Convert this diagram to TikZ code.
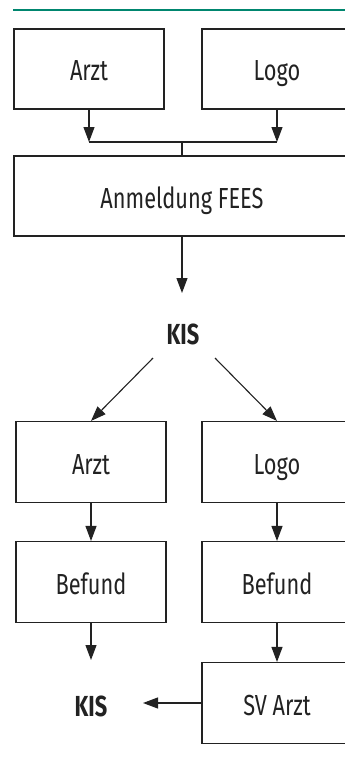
\documentclass[tikz,border=0pt]{standalone}
\usepackage{fontspec}
\setmainfont[FakeStretch=0.75]{Fira Sans}
\usetikzlibrary{arrows.meta,calc}
\definecolor{teal1}{HTML}{00866F}
\definecolor{ink}{HTML}{222222}
\begin{document}
\begin{tikzpicture}[x=1pt,y=-1pt,
  box/.style={draw=ink,line width=1.1pt,minimum width=150pt,minimum height=80pt,inner sep=0pt,text height=24pt,text depth=0pt,font=\fontsize{29}{32}\selectfont,text=ink},
  kis/.style={font=\fontsize{29}{32}\selectfont\bfseries,text=ink,inner sep=0pt},
  arr/.style={draw=ink,line width=1.1pt,-{Triangle[length=15pt,width=11pt]}},
  ln/.style={draw=ink,line width=1.1pt}]
\useasboundingbox (0,0) rectangle (345,760);
\clip (0,0) rectangle (345,760);
\draw[teal1,line width=2.5pt] (13,10) -- (350,10);
\node[box] (arzt1) at (89,69) {Arzt};
\node[box] (logo1) at (277,69) {Logo};
\node[box,minimum width=336pt] (anm) at (182,196) {Anmeldung FEES};
\node[kis] (kis1) at (183,334) {KIS};
\node[box,minimum height=81pt] (arzt2) at (91,462) {Arzt};
\node[box,minimum height=81pt] (logo2) at (277,462) {Logo};
\node[box,minimum height=81pt] (bef1) at (91,582) {Befund};
\node[box,minimum height=81pt] (bef2) at (277,582) {Befund};
\node[box,minimum height=81pt] (sv) at (277,703) {SV Arzt};
\node[kis] (kis2) at (91,706) {KIS};
\coordinate (j) at (182,142);
\draw[arr] (arzt1.south) -- (arzt1.south |- j);
\draw[arr] (logo1.south) -- (logo1.south |- j);
\draw[ln] (arzt1.south |- j) -- (logo1.south |- j);
\draw[ln] (j) -- (anm.north);
\draw[arr] (anm.south) -- (anm.south |- 0,293);
\draw[arr] ($(kis1)+(-30,24)$) -- (arzt2.north);
\draw[arr] ($(kis1)+(32,24)$) -- (logo2.north);
\draw[arr] (arzt2.south) -- (bef1.north);
\draw[arr] (logo2.south) -- (bef2.north);
\draw[arr] (bef1.south) -- ($(kis2)+(0,-46)$);
\draw[arr] (bef2.south) -- (sv.north);
\coordinate (k2e) at ($(kis2)+(52,0)$);
\draw[arr] (sv.west) -- (k2e |- sv.west);
\end{tikzpicture}
\end{document}
